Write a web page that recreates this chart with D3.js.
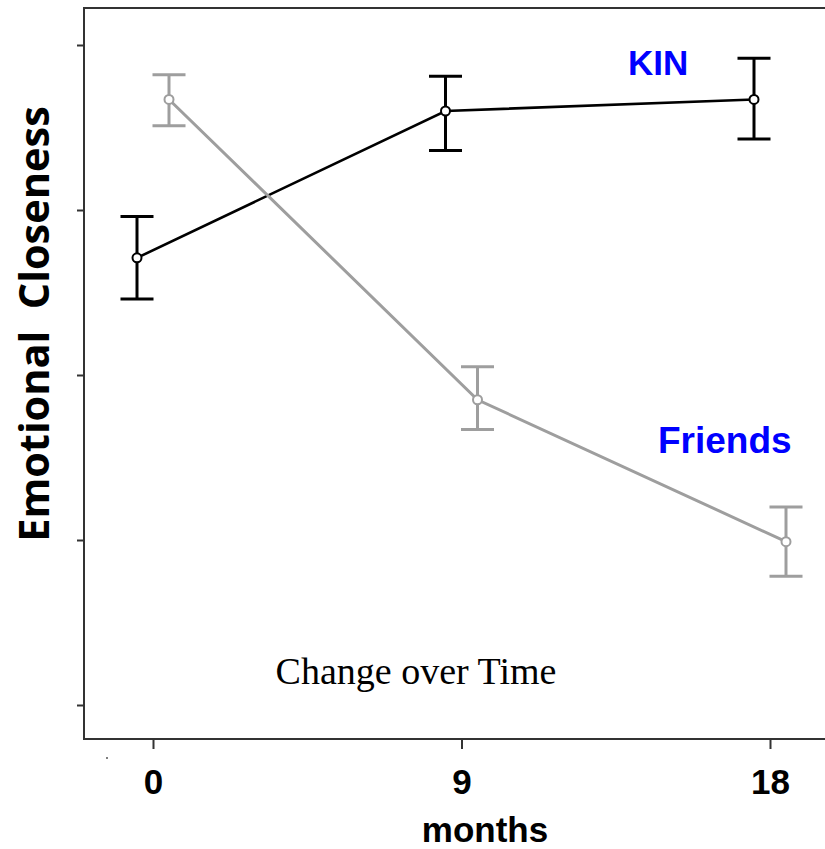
<!DOCTYPE html>
<html>
<head>
<meta charset="utf-8">
<script src="https://cdn.jsdelivr.net/npm/d3@7"></script>
<style>
  html, body { margin: 0; padding: 0; background: #fff; }
  svg { display: block; }
</style>
</head>
<body>
<svg id="chart" width="825" height="849"></svg>
<script>
// Time points (months) and group means with error-bar bounds
const months = [0, 9, 18];
const kinMean = [3.71, 4.60, 4.67];
const kinLow = [3.46, 4.36, 4.43];
const kinHigh = [3.96, 4.81, 4.92];
const friendsMean = [4.67, 2.85, 1.99];
const friendsLow = [4.51, 2.67, 1.78];
const friendsHigh = [4.82, 3.05, 2.20];
const yTickValues = [1, 2, 3, 4, 5];
const xTickLabels = ["0", "9", "18"];

const svg = d3.select("#chart");
const frame = { left: 84, top: 8, bottom: 739, right: 825 };

const x = d3.scaleLinear().domain([0, 18]).range([153, 770]);
const y = d3.scaleLinear().domain([1, 5]).range([705, 45]);

const axisColor = "#333";

// Frame: left, top and bottom edges (no right edge)
svg.append("path")
  .attr("d", `M${frame.right},${frame.top}H${frame.left}V${frame.bottom}H${frame.right}`)
  .attr("fill", "none").attr("stroke", axisColor).attr("stroke-width", 2);

// Y axis ticks without labels
const yAxis = d3.axisLeft(y).tickValues(yTickValues).tickSize(7).tickFormat("");
const gy = svg.append("g").attr("transform", `translate(${frame.left},0)`).call(yAxis);
gy.select(".domain").remove();
gy.selectAll("line").attr("stroke", axisColor).attr("stroke-width", 2);

// X axis ticks with bold labels
const xAxis = d3.axisBottom(x).tickValues(months).tickSize(10)
  .tickFormat((d, i) => xTickLabels[i]).tickPadding(20);
const gx = svg.append("g").attr("transform", `translate(0,${frame.bottom})`).call(xAxis);
gx.select(".domain").remove();
gx.selectAll("line").attr("stroke", axisColor).attr("stroke-width", 2);
gx.selectAll("text")
  .attr("font-family", "'Liberation Sans', Arial, sans-serif")
  .attr("font-weight", "bold").attr("font-size", 35).attr("fill", "#000");

// small stray mark near the axis corner
svg.append("circle").attr("cx", 107).attr("cy", 758).attr("r", 1).attr("fill", "#555");

// Series drawing
function drawSeries(mean, lo, hi, offset, color, width) {
  const pts = months.map((m, i) => ({ x: x(m) + offset, m: mean[i], lo: lo[i], hi: hi[i] }));
  const g = svg.append("g");
  const line = d3.line().x(d => d.x).y(d => y(d.m));
  g.append("path").datum(pts).attr("d", line)
    .attr("fill", "none").attr("stroke", color).attr("stroke-width", width);
  const cap = 16.5;
  const eb = g.selectAll(".eb").data(pts).enter().append("g");
  eb.append("line").attr("x1", d => d.x).attr("x2", d => d.x)
    .attr("y1", d => y(d.hi)).attr("y2", d => y(d.lo))
    .attr("stroke", color).attr("stroke-width", 3);
  eb.append("line").attr("x1", d => d.x - cap).attr("x2", d => d.x + cap)
    .attr("y1", d => y(d.hi)).attr("y2", d => y(d.hi))
    .attr("stroke", color).attr("stroke-width", 3);
  eb.append("line").attr("x1", d => d.x - cap).attr("x2", d => d.x + cap)
    .attr("y1", d => y(d.lo)).attr("y2", d => y(d.lo))
    .attr("stroke", color).attr("stroke-width", 3);
  eb.append("circle").attr("cx", d => d.x).attr("cy", d => y(d.m)).attr("r", 4.5)
    .attr("fill", "#fff").attr("stroke", color).attr("stroke-width", 2);
}

drawSeries(kinMean, kinLow, kinHigh, -16, "#000", 2.6);
drawSeries(friendsMean, friendsLow, friendsHigh, 16, "#9e9e9e", 3);

// Series labels
svg.append("text").attr("x", 628).attr("y", 75).text("KIN")
  .attr("font-family", "'Liberation Sans', Arial, sans-serif")
  .attr("font-weight", "bold").attr("font-size", 35).attr("fill", "#0000ff");
svg.append("text").attr("x", 658).attr("y", 453).text("Friends")
  .attr("font-family", "'Liberation Sans', Arial, sans-serif")
  .attr("font-weight", "bold").attr("font-size", 37).attr("fill", "#0000ff");

// Caption inside the plot
svg.append("text").attr("x", 416).attr("y", 684).attr("text-anchor", "middle")
  .text("Change over Time")
  .attr("font-family", "'Liberation Serif', 'Times New Roman', serif")
  .attr("font-size", 38).attr("fill", "#000");

// Axis titles
svg.append("text").attr("x", 485).attr("y", 842).attr("text-anchor", "middle")
  .text("months")
  .attr("font-family", "'Liberation Sans', Arial, sans-serif")
  .attr("font-weight", "bold").attr("font-size", 35).attr("fill", "#000");

svg.append("text")
  .attr("transform", "translate(49,324) rotate(-90)")
  .attr("text-anchor", "middle")
  .attr("xml:space", "preserve")
  .style("white-space", "pre")
  .text("Emotional  Closeness")
  .attr("font-family", "'Open Sans', 'Noto Sans', sans-serif")
  .attr("font-weight", "bold").attr("font-size", 41.5).attr("fill", "#000");
</script>
</body>
</html>
